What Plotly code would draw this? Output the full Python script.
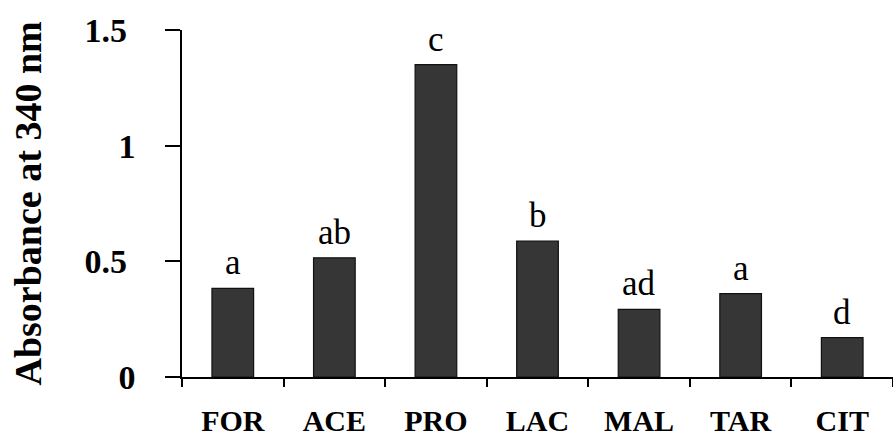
import plotly.graph_objects as go

# Organic acids tested and their absorbance readings
acids = ["FOR", "ACE", "PRO", "LAC", "MAL", "TAR", "CIT"]
absorbance = [0.383, 0.515, 1.350, 0.588, 0.292, 0.360, 0.170]
groups = ["a", "ab", "c", "b", "ad", "a", "d"]

y_tickvals = [0, 0.5, 1, 1.5]
y_ticktext = ["0", "0.5\u00a0", "1", "1.5\u00a0"]

SERIF = "Liberation Serif, Times New Roman, serif"

fig = go.Figure(
    go.Bar(
        x=acids,
        y=absorbance,
        width=0.41,
        marker=dict(color="#363636", line=dict(color="#111111", width=1.2)),
        hoverinfo="skip",
    )
)

# significance letters above each bar
for name, val, grp in zip(acids, absorbance, groups):
    fig.add_annotation(
        x=name, y=val, text=grp, showarrow=False,
        xanchor="center", yanchor="bottom", yshift=4,
        font=dict(family=SERIF, size=35, color="black"),
    )

# rotated y-axis title
fig.add_annotation(
    xref="paper", yref="paper", x=-155 / 711, y=0.5,
    text="<b>Absorbance at 340 nm</b>", textangle=-90, showarrow=False,
    xanchor="center", yanchor="middle",
    font=dict(family=SERIF, size=38, color="black"),
)

fig.update_layout(
    width=893, height=445,
    margin=dict(l=182, r=0, t=30, b=68),
    paper_bgcolor="white", plot_bgcolor="white",
    showlegend=False,
    bargap=0.59,
)

fig.update_xaxes(
    showline=True, linecolor="black", linewidth=1.6,
    ticks="outside", tickson="boundaries", ticklen=8, tickwidth=1.6, tickcolor="black",
    tickfont=dict(family=SERIF, size=30, color="black"),
    ticklabelstandoff=16,
    showgrid=False, zeroline=False,
)
fig.update_xaxes(tickprefix="<b>", ticksuffix="</b>")

fig.update_yaxes(
    range=[0, 1.5], showline=True, linecolor="black", linewidth=1.6,
    ticks="outside", ticklen=15, tickwidth=1.6, tickcolor="black",
    tickvals=y_tickvals, ticktext=["<b>" + t + "</b>" for t in y_ticktext],
    tickfont=dict(family=SERIF, size=34, color="black"),
    ticklabelstandoff=23,
    showgrid=False, zeroline=False,
)

fig.write_html("out.html")
